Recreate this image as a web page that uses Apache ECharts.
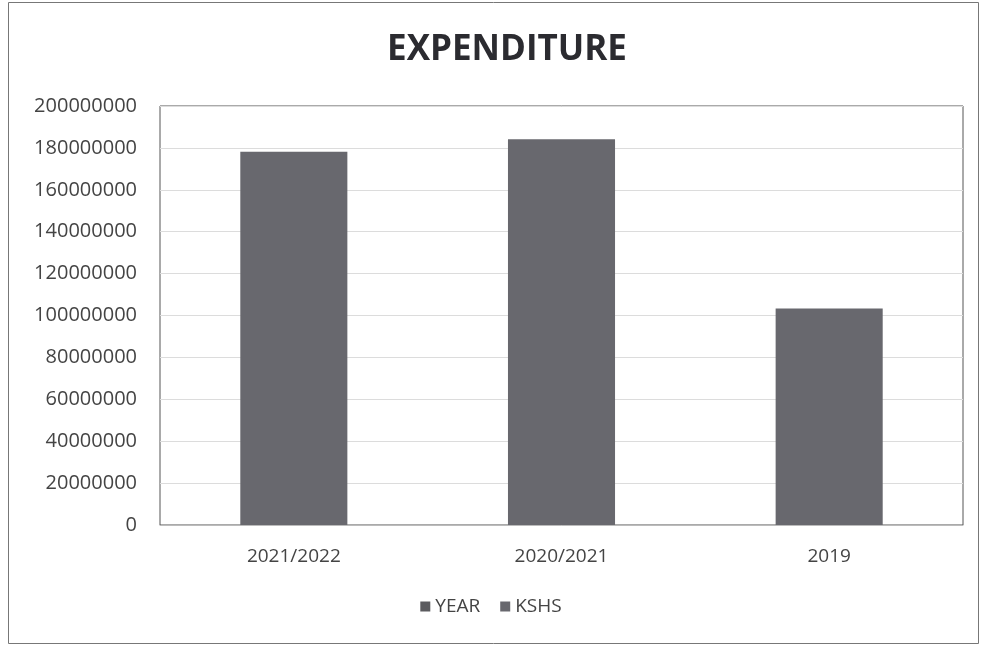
<!DOCTYPE html>
<html>
<head>
<meta charset="utf-8">
<script src="https://cdn.jsdelivr.net/npm/echarts@6/dist/echarts.min.js"></script>
<style>
html,body{margin:0;padding:0;background:#fff;}
#chart{width:982px;height:647px;}
</style>
</head>
<body>
<div id="chart"></div>
<script>
// Expenditure by financial year (KSHS)
const categories = ['2021/2022', '2020/2021', '2019'];
const yearValues = [null, null, null];
const kshsValues = [178200000, 184100000, 103400000];
const yTicks = [0, 20000000, 40000000, 60000000, 80000000, 100000000, 120000000, 140000000, 160000000, 180000000, 200000000];

const chart = echarts.init(document.getElementById('chart'));
const font = '"Open Sans", "Liberation Sans", sans-serif';

chart.setOption({
  backgroundColor: '#ffffff',
  animation: false,
  title: {
    text: 'EXPENDITURE',
    left: 502,
    textAlign: 'center',
    top: 28,
    textStyle: { fontFamily: font, fontSize: 35, fontWeight: 'bold', color: '#2b2b30' }
  },
  graphic: [{
    type: 'rect',
    shape: { x: 8.5, y: 2.5, width: 970, height: 641 },
    style: { fill: 'none', stroke: '#777', lineWidth: 1 }
  }],
  legend: {
    bottom: 26,
    left: 'center',
    itemWidth: 10,
    itemHeight: 10,
    itemGap: 20,
    icon: 'rect',
    textStyle: { fontFamily: font, fontSize: 19, color: '#444' },
    data: ['YEAR', 'KSHS']
  },
  grid: {
    left: 160, right: 19, top: 106, bottom: 122,
    show: true, borderColor: '#555', borderWidth: 1
  },
  xAxis: {
    type: 'category',
    data: categories,
    axisLine: { show: true, lineStyle: { color: '#bbb' } },
    axisTick: { show: false },
    axisLabel: { fontFamily: font, fontSize: 19, color: '#444', margin: 22 }
  },
  yAxis: {
    type: 'value',
    min: yTicks[0],
    max: yTicks[yTicks.length - 1],
    interval: yTicks[1] - yTicks[0],
    axisLine: { show: false },
    axisTick: { show: false },
    splitLine: { lineStyle: { color: '#dcdcdc', width: 1 } },
    axisLabel: {
      fontFamily: font, fontSize: 20, color: '#444', margin: 23,
      formatter: (v) => String(v)
    }
  },
  series: [
    {
      name: 'YEAR',
      type: 'bar',
      data: yearValues,
      barWidth: '40%',
      barGap: '-100%',
      itemStyle: { color: '#5b5b5f' }
    },
    {
      name: 'KSHS',
      type: 'bar',
      data: kshsValues,
      barWidth: '40%',
      barGap: '-100%',
      itemStyle: { color: '#68686e' }
    }
  ]
});
</script>
</body>
</html>
